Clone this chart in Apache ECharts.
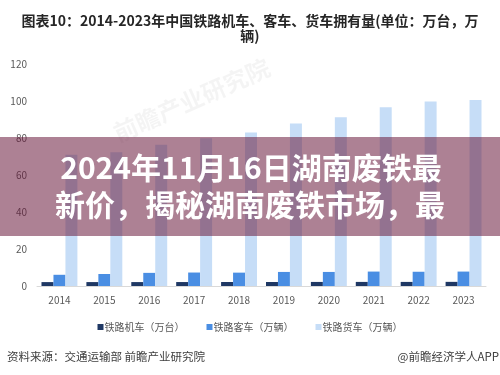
<!DOCTYPE html>
<html><head><meta charset="utf-8">
<script src="https://cdn.jsdelivr.net/npm/echarts@6/dist/echarts.min.js"></script>
<style>html,body{margin:0;padding:0;background:#fff}#c{width:500px;height:375px}</style>
</head><body><div id="c"></div>
<script>
const years = ['2014','2015','2016','2017','2018','2019','2020','2021','2022','2023'];
const locomotives = [2.11, 2.12, 2.12, 2.14, 2.15, 2.17, 2.20, 2.21, 2.21, 2.24];
const coaches = [6.06, 6.50, 7.10, 7.28, 7.22, 7.60, 7.60, 7.80, 7.70, 7.80];
const freightCars = [71.0, 72.3, 76.4, 79.9, 83.0, 87.8, 91.2, 96.6, 99.7, 100.5];
const seriesNames = ['铁路机车（万台）', '铁路客车（万辆）', '铁路货车（万辆）'];
const yTicks = {min: 0, max: 120, interval: 20};

const font = '"Noto Sans CJK SC", "Noto Sans", sans-serif';
const chart = echarts.init(document.getElementById('c'), null, {renderer: 'canvas'});
chart.setOption({
  backgroundColor: '#fff',
  animation: false,
  textStyle: {fontFamily: font},
  title: {
    text: '图表10：2014-2023年中国铁路机车、客车、货车拥有量(单位：万台，万\n辆)',
    left: 'center', top: 8,
    textStyle: {fontSize: 14, fontWeight: 'bold', color: '#262626', fontFamily: font, lineHeight: 15, align: 'center'}
  },
  legend: {
    top: 317, left: 'center', itemWidth: 6, itemHeight: 6, itemGap: 22, icon: 'rect',
    textStyle: {fontSize: 10, color: '#595959', fontFamily: font, padding: [0, 0, 0, -4]},
    data: seriesNames
  },
  grid: {left: 37, right: 14, top: 64, bottom: 89},
  xAxis: {
    type: 'category', data: years,
    axisLine: {lineStyle: {color: '#d9d9d9'}}, axisTick: {show: false},
    axisLabel: {fontSize: 10, color: '#595959', margin: 9}
  },
  yAxis: {
    type: 'value', min: yTicks.min, max: yTicks.max, interval: yTicks.interval,
    splitLine: {show: false}, axisLine: {show: false}, axisTick: {show: false},
    axisLabel: {fontSize: 10, color: '#595959', margin: 10}
  },
  series: [
    {name: seriesNames[0], type: 'bar', data: locomotives, barGap: '0%', barCategoryGap: '20%', itemStyle: {color: '#1f3864'}},
    {name: seriesNames[1], type: 'bar', data: coaches, barGap: '0%', barCategoryGap: '20%', itemStyle: {color: '#4a8ee3'}},
    {name: seriesNames[2], type: 'bar', data: freightCars, barGap: '0%', barCategoryGap: '20%', itemStyle: {color: '#c6ddf7'}}
  ],
  graphic: [
    {type: 'text', left: 110, top: 55, rotation: Math.PI / 7.5, z: 1,
     style: {text: '前瞻产业研究院', fontSize: 24, fontWeight: 'bold', fill: 'rgba(0,0,0,0.045)', fontFamily: font}},
    {type: 'rect', shape: {x: 0, y: 137, width: 500, height: 99}, z: 100,
     style: {fill: 'rgba(105,25,60,0.55)'}},
    {type: 'text', x: 251, y: 168, z: 101,
     style: {text: '2024年11月16日湖南废铁最', fontSize: 30, fontWeight: 'bold', fill: '#fff', fontFamily: font, align: 'center', verticalAlign: 'middle'}},
    {type: 'text', x: 250, y: 205, z: 101,
     style: {text: '新价，揭秘湖南废铁市场，最', fontSize: 30, fontWeight: 'bold', fill: '#fff', fontFamily: font, align: 'center', verticalAlign: 'middle'}},
    {type: 'text', left: 7, top: 351, style: {text: '资料来源：交通运输部 前瞻产业研究院', fontSize: 11.5, fill: '#404040', fontFamily: font}},
    {type: 'text', right: 1, top: 351, style: {text: '@前瞻经济学人APP', fontSize: 11.5, fill: '#404040', fontFamily: font}}
  ]
});
</script></body></html>
